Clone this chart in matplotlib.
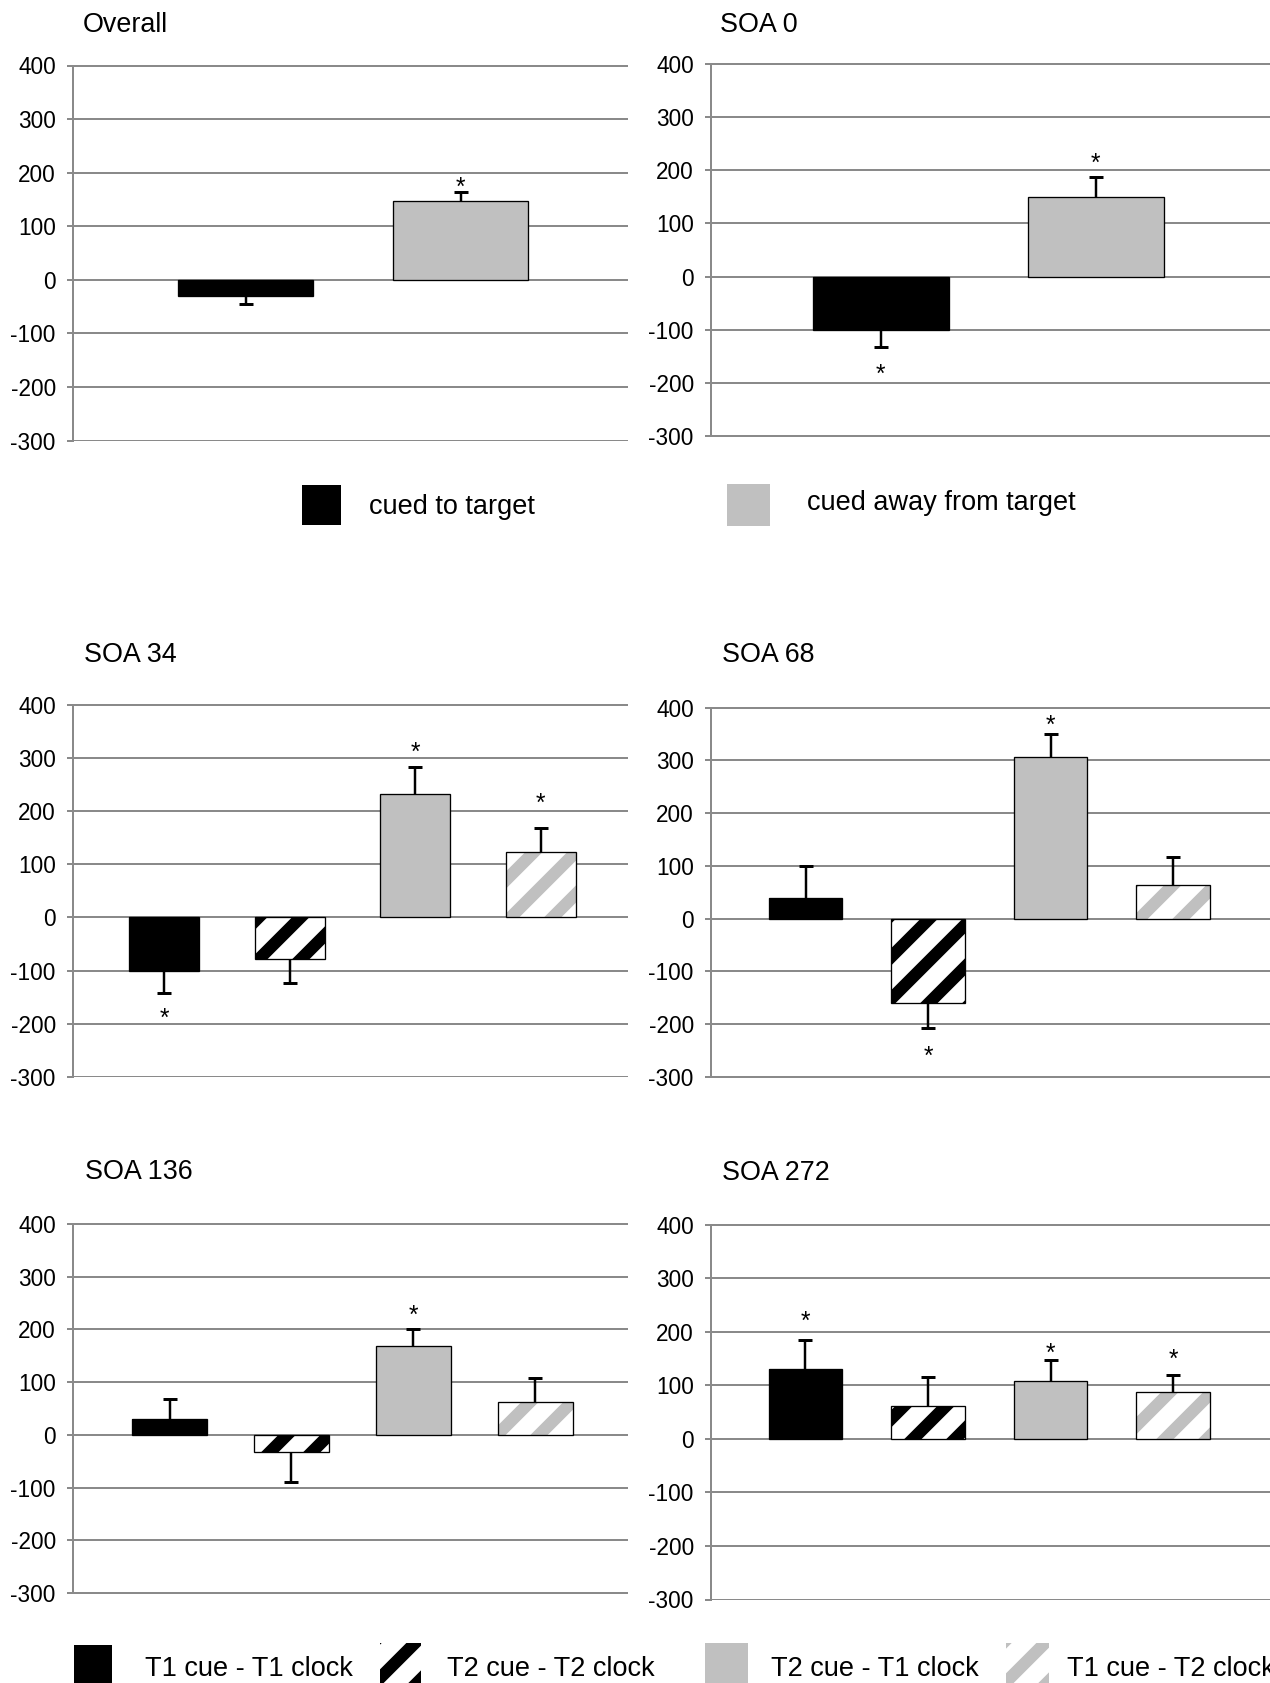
import matplotlib
matplotlib.use("Agg")
import matplotlib.pyplot as plt
from matplotlib.patches import Rectangle
from matplotlib.transforms import offset_copy

# ---------------- data ----------------
panel_names = ["Overall", "SOA 0", "SOA 34", "SOA 68", "SOA 136", "SOA 272"]

overall_means = [-30.5, 146.5]
overall_errs = [15, 17.5]
overall_sig = [False, True]

soa0_means = [-100, 150]
soa0_errs = [33, 38]
soa0_sig = [True, True]

soa34_means = [-100, -78, 233, 124]
soa34_errs = [42, 46, 50, 45]
soa34_sig = [True, False, True, True]

soa68_means = [38.5, -160.5, 306, 64.5]
soa68_errs = [60.5, 46.5, 44, 51.5]
soa68_sig = [False, True, True, False]

soa136_means = [30, -32, 169, 62]
soa136_errs = [38, 57, 32, 45]
soa136_sig = [False, False, True, False]

soa272_means = [130, 61, 108, 88]
soa272_errs = [53.5, 54, 39.5, 31.5]
soa272_sig = [True, False, True, True]

y_ticks = [-300, -200, -100, 0, 100, 200, 300, 400]

legend_top_labels = ["cued to target", "cued away from target"]
legend_bottom_labels = ["T1 cue - T1 clock", "T2 cue - T2 clock",
                        "T2 cue - T1 clock", "T1 cue - T2 clock"]

# ---------------- style ----------------
plt.rcParams["font.family"] = ["Liberation Sans", "DejaVu Sans"]
plt.rcParams["axes.unicode_minus"] = False
plt.rcParams["hatch.linewidth"] = 7.0

DPI = 126
W, H = 1270, 1683
GRID = "#8a8a8a"
GRAY = "#c0c0c0"
TICK_FS = 12.9
TITLE_FS = 15.4
LEG_FS = 15.5
STAR_FS = 14

STYLES = [
    dict(face="black", hatch=None, hcolor="black"),
    dict(face="white", hatch="/", hcolor="black"),
    dict(face=GRAY, hatch=None, hcolor=GRAY),
    dict(face="white", hatch="/", hcolor=GRAY),
]

# layout: rect = (x0, x1, y_top(400), y_bottom(-300)) in pixels
layouts = {
    "Overall": dict(rect=(73, 628, 65.5, 440.5), xlim=(-0.805, 1.78), width=0.63,
                    title=(83, 22.5), star_off=[0, 21], styles=[0, 2]),
    "SOA 0": dict(rect=(711, 1270, 64.2, 435.8), xlim=(-0.79, 1.81), width=0.63,
                  title=(720, 22.5), star_off=[39.5, 38], styles=[0, 2]),
    "SOA 34": dict(rect=(73, 628, 705, 1076.7), xlim=(-0.726, 3.694), width=0.556,
                   title=(84, 651.5), star_off=[35, 0, 41, 58], styles=[0, 1, 2, 3]),
    "SOA 68": dict(rect=(711, 1270, 707.5, 1076.9), xlim=(-0.773, 3.79), width=0.6,
                   title=(721.5, 651.5), star_off=[0, 42, 29, 0], styles=[0, 1, 2, 3]),
    "SOA 136": dict(rect=(73, 628, 1223.8, 1593), xlim=(-0.793, 3.762), width=0.617,
                    title=(85, 1169), star_off=[0, 0, 39, 0], styles=[0, 1, 2, 3]),
    "SOA 272": dict(rect=(711, 1270, 1224.5, 1599.5), xlim=(-0.77, 3.79), width=0.6,
                    title=(722.5, 1170), star_off=[48.5, 0, 24.5, 41.5], styles=[0, 1, 2, 3]),
}

panel_data = {
    "Overall": (overall_means, overall_errs, overall_sig),
    "SOA 0": (soa0_means, soa0_errs, soa0_sig),
    "SOA 34": (soa34_means, soa34_errs, soa34_sig),
    "SOA 68": (soa68_means, soa68_errs, soa68_sig),
    "SOA 136": (soa136_means, soa136_errs, soa136_sig),
    "SOA 272": (soa272_means, soa272_errs, soa272_sig),
}

fig = plt.figure(figsize=(W / DPI, H / DPI), dpi=DPI)
fig.patch.set_facecolor("white")

YMIN, YMAX = -300, 400
PAD = 1.5  # small data padding so the edge gridlines are not half clipped


def add_panel(name):
    means, errs, sig = panel_data[name]
    lay = layouts[name]
    x0, x1, yt, yb = lay["rect"]
    ppu = (yb - yt) / (YMAX - YMIN)
    yt2 = yt - PAD * ppu
    yb2 = yb + PAD * ppu
    ax = fig.add_axes([x0 / W, 1 - yb2 / H, (x1 - x0) / W, (yb2 - yt2) / H])
    ax.set_xlim(*lay["xlim"])
    ax.set_ylim(YMIN - PAD, YMAX + PAD)
    xs = list(range(len(means)))
    for i, m in enumerate(means):
        st = STYLES[lay["styles"][i]]
        ax.bar(xs[i], m, width=lay["width"], color=st["face"], edgecolor=st["hcolor"],
               hatch=st["hatch"], linewidth=0, zorder=2)
        ax.bar(xs[i], m, width=lay["width"], fill=False, edgecolor="black",
               linewidth=0.75, zorder=3)
    # one-sided error bars (away from zero), cap only at the outer end
    for i, (m, e) in enumerate(zip(means, errs)):
        if m >= 0:
            yerr = [[0], [e]]
        else:
            yerr = [[e], [0]]
        cont = ax.errorbar([xs[i]], [m], yerr=yerr, fmt="none", ecolor="black",
                           elinewidth=1.4, capsize=4, capthick=1.7, zorder=4)
        caps = cont[1]
        if len(caps) == 2:
            # caps[0] = lower end, caps[1] = upper end
            if m >= 0:
                caps[0].set_visible(False)
            else:
                caps[1].set_visible(False)
    star_tr = offset_copy(ax.transData, fig=fig, y=-0.58 * STAR_FS, units="points")
    for i, (m, e, s) in enumerate(zip(means, errs, sig)):
        if s:
            sign = 1 if m >= 0 else -1
            ys = m + sign * (e + lay["star_off"][i])
            ax.text(xs[i], ys, "*", ha="center", va="baseline", fontsize=STAR_FS,
                    transform=star_tr, zorder=5)
    ax.set_yticks(y_ticks)
    ax.set_yticklabels([str(t) for t in y_ticks])
    ax.set_xticks([])
    ax.grid(axis="y", color=GRID, linewidth=1.14)
    ax.set_axisbelow(True)
    for sp in ["top", "right", "bottom"]:
        ax.spines[sp].set_visible(False)
    ax.spines["left"].set_color(GRID)
    ax.spines["left"].set_linewidth(1.14)
    ax.spines["left"].set_bounds(YMIN, YMAX)
    ax.tick_params(axis="y", length=3.7, width=1.14, color=GRID, pad=6.1,
                   labelsize=TICK_FS, labelcolor="black")
    tx, ty = lay["title"]
    fig.text(tx / W, 1 - ty / H, name, fontsize=TITLE_FS, va="center_baseline", ha="left")
    return ax


for nm in panel_names:
    add_panel(nm)


def legend_patch(x0, x1, y0, y1, style_idx):
    st = STYLES[style_idx]
    r = Rectangle((x0 / W, 1 - y1 / H), (x1 - x0) / W, (y1 - y0) / H,
                  transform=fig.transFigure, facecolor=st["face"], edgecolor=st["hcolor"],
                  hatch=st["hatch"], linewidth=0)
    fig.add_artist(r)


# top legend (cued to / away from target)
top_leg_boxes = [(301.7, 341.4, 485, 525), (726.8, 769.7, 484, 526)]
top_leg_text = [(369, 503.5), (807, 500)]
for lbl, box, txy, si in zip(legend_top_labels, top_leg_boxes, top_leg_text, [0, 2]):
    legend_patch(*box, si)
    fig.text(txy[0] / W, 1 - txy[1] / H, lbl, fontsize=LEG_FS, va="center_baseline", ha="left")

# bottom legend (four conditions)
bot_leg_boxes = [(74, 111.6, 1645, 1686), (380, 421, 1643, 1686),
                 (705, 748, 1642.5, 1686), (1006, 1049, 1643, 1686)]
bot_leg_text_x = [145, 446.6, 770.8, 1067]
for lbl, box, tx, si in zip(legend_bottom_labels, bot_leg_boxes, bot_leg_text_x, [0, 1, 2, 3]):
    legend_patch(*box, si)
    fig.text(tx / W, 1 - 1666 / H, lbl, fontsize=LEG_FS, va="center_baseline", ha="left")

fig.savefig("out.png", dpi=DPI, facecolor="white")
